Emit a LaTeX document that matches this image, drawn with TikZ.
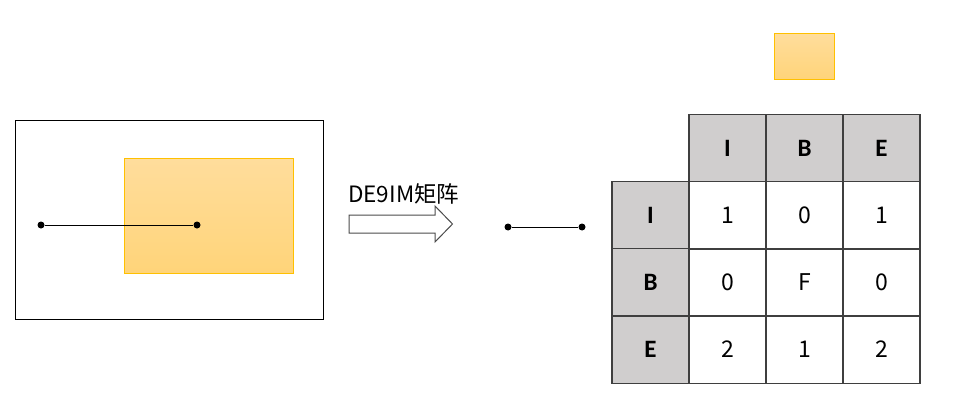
\documentclass[tikz,border=0pt]{standalone}
\usepackage{fontspec}
\setmainfont{Carlito}
\newfontfamily\cjkf{Noto Sans CJK SC}
\begin{document}
\begin{tikzpicture}[x=1pt,y=-1pt,
  dot/.style={circle,fill=black,inner sep=0pt,minimum size=7pt},
  seg/.style={draw=black,line width=1pt},
  orange/.style={draw=orangeedge,line width=1pt,top color=orangetop,bottom color=orangebot},
  cell/.style={draw=gridline,line width=1.1pt,minimum width=77pt,minimum height=67.3pt,inner sep=0pt,outer sep=0pt,anchor=center},
  hcell/.style={cell,fill=hdrgray,font=\bfseries\fontsize{25}{27}\selectfont},
  vcell/.style={cell,font=\cjkf\fontsize{23}{25}\selectfont}]
\definecolor{orangeedge}{HTML}{FFC000}
\definecolor{orangetop}{HTML}{FFDD9C}
\definecolor{orangebot}{HTML}{FFD479}
\definecolor{hdrgray}{HTML}{D0CECE}
\definecolor{gridline}{HTML}{3F3F3F}
\useasboundingbox (0,0) rectangle (966,417);
\fill[white] (0,0) rectangle (966,417);
% left scene
\node[draw=black,line width=1pt,minimum width=308pt,minimum height=199pt,inner sep=0pt,anchor=north west] (frame) at (15,120) {};
\node[orange,minimum width=169pt,minimum height=115pt,inner sep=0pt,anchor=north west] (poly) at (124,158) {};
\node[dot] (p1) at (41,225) {};
\node[dot] (p2) at (197,225) {};
\draw[seg] (p1) -- (p2);
% arrow and label
\node[font=\cjkf\fontsize{22.5}{24}\selectfont,anchor=base west,inner sep=0pt] (lbl) at (348,202) {DE9IM矩阵};
\draw[draw=black!70,line width=1pt,fill=white] (349,215) -- (435,215) -- (435,206) -- (452.5,224) -- (435,242) -- (435,233) -- (349,233) -- cycle;
% right line
\node[dot] (q1) at (508,227) {};
\node[dot] (q2) at (582,227) {};
\draw[seg] (q1) -- (q2);
% small square
\node[orange,minimum width=60pt,minimum height=46pt,inner sep=0pt,anchor=north west] (sq) at (774,33) {};
% table
\node[hcell] (hI) at (727.5,148) {I};
\node[hcell] (hB) at (804.5,148) {B};
\node[hcell] (hE) at (881.5,148) {E};
\node[hcell] (rI) at (650.5,215.3) {I};
\node[hcell] (rB) at (650.5,282.5) {B};
\node[hcell] (rE) at (650.5,349.6) {E};
\node[vcell] (c11) at (727.5,215.3) {1};
\node[vcell] (c12) at (804.5,215.3) {0};
\node[vcell] (c13) at (881.5,215.3) {1};
\node[vcell] (c21) at (727.5,282.5) {0};
\node[vcell] (c22) at (804.5,282.5) {F};
\node[vcell] (c23) at (881.5,282.5) {0};
\node[vcell] (c31) at (727.5,349.6) {2};
\node[vcell] (c32) at (804.5,349.6) {1};
\node[vcell] (c33) at (881.5,349.6) {2};
\end{tikzpicture}
\end{document}
